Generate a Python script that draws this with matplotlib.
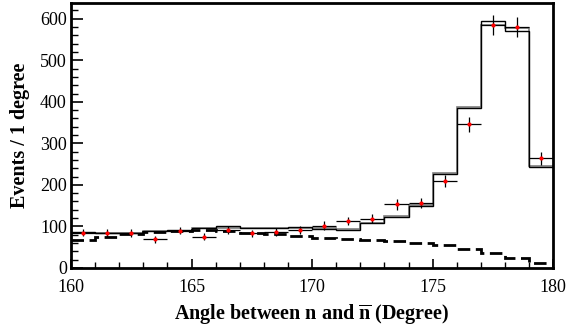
import numpy as np
import matplotlib
matplotlib.use('Agg')
import matplotlib.pyplot as plt
from matplotlib.ticker import MultipleLocator

# bin edges, 1 degree per bin
edges = np.arange(160, 181, 1)
centers = edges[:-1] + 0.5

# data points (events per bin)
data = [85, 84, 84, 69, 90, 75, 92, 83, 86, 92, 102, 113, 119, 153, 156, 210, 346, 584, 579, 264]

# total (black solid)
total = [87, 85, 83, 89, 91, 96, 100, 96, 96, 98, 93, 92, 107, 122, 149, 227, 385, 594, 571, 243]
# second solid curve (gray)
total2 = [85, 84, 84, 88, 90, 95, 97, 95, 95, 96, 95, 93, 108, 124, 151, 229, 388, 586, 577, 245]
# background (dashed)
bkg = [68, 75, 81, 86, 90, 91, 90, 85, 82, 78, 73, 70, 67, 65, 61, 55, 46, 35, 23, 11]

plt.rcParams['font.family'] = ['Liberation Serif', 'DejaVu Serif']
plt.rcParams['mathtext.fontset'] = 'custom'
plt.rcParams['mathtext.rm'] = 'Liberation Serif'
plt.rcParams['mathtext.bf'] = 'Liberation Serif:bold'

fig = plt.figure(figsize=(5.68, 3.32), dpi=100)
ax = fig.add_axes([0.125, 0.193, 0.849, 0.798])

ax.stairs(total2, edges, baseline=None, color='#7f7f7f', lw=1.2)
ax.stairs(total, edges, baseline=None, color='black', lw=1.0)
ax.stairs(bkg, edges, baseline=None, color='black', lw=2.0, linestyle=(0, (4.5, 2)))

yerr = np.sqrt(data)
ax.errorbar(centers, data, xerr=0.5, yerr=yerr, fmt='none', ecolor='black', elinewidth=0.9)
ax.plot(centers, data, 'o', color='red', markersize=3, markeredgewidth=0)

ax.set_xlim(160, 180)
ax.set_ylim(0, 638)

ax.xaxis.set_major_locator(MultipleLocator(5))
ax.xaxis.set_minor_locator(MultipleLocator(1))
ax.yaxis.set_major_locator(MultipleLocator(100))
ax.yaxis.set_minor_locator(MultipleLocator(20))

ax.tick_params(axis='both', which='both', direction='in', top=False, right=False)
ax.tick_params(axis='x', which='major', length=6.5, width=1.2, labelsize=13, pad=8)
ax.tick_params(axis='x', which='minor', length=4, width=1.0)
ax.tick_params(axis='y', which='major', length=8.5, width=1.2, labelsize=13, pad=3)
ax.tick_params(axis='y', which='minor', length=5, width=1.0)

for s in ax.spines.values():
    s.set_linewidth(2.0)

ax.set_xlabel(r'Angle between n and $\mathbf{\overline{n}}$ (Degree)', fontsize=14.5, fontweight='bold', labelpad=4)
ax.set_ylabel('Events / 1 degree', fontsize=14.5, fontweight='bold', labelpad=7)

fig.savefig('out.png', dpi=100)
